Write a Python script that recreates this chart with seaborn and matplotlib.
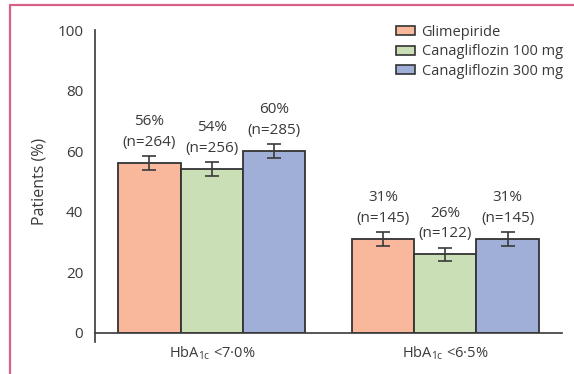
import matplotlib
matplotlib.use("Agg")
import matplotlib.pyplot as plt
from matplotlib.lines import Line2D
import seaborn as sns
import pandas as pd

# Data
categories = ["HbA$_{\\mathregular{1c}}$ <7·0%", "HbA$_{\\mathregular{1c}}$ <6·5%"]
treatments = ["Glimepiride", "Canagliflozin 100 mg", "Canagliflozin 300 mg"]
glimepiride = [56, 31]
cana_100 = [54, 26]
cana_300 = [60, 31]
err_glimepiride = [2.3, 2.2]
err_cana_100 = [2.3, 2.1]
err_cana_300 = [2.3, 2.2]
n_glimepiride = [264, 145]
n_cana_100 = [256, 122]
n_cana_300 = [285, 145]

colors = ["#F9B89C", "#CADFB5", "#9FAFD7"]
edge = "#333333"

sns.set_style("white")
plt.rcParams["font.family"] = ["Open Sans", "DejaVu Sans"]
plt.rcParams["mathtext.fontset"] = "custom"
plt.rcParams["mathtext.rm"] = "Open Sans"

rows = []
values = [glimepiride, cana_100, cana_300]
errs = [err_glimepiride, err_cana_100, err_cana_300]
ns = [n_glimepiride, n_cana_100, n_cana_300]
for t, vals, es, nn in zip(treatments, values, errs, ns):
    for c, v, e, n in zip(categories, vals, es, nn):
        rows.append({"category": c, "treatment": t, "value": v, "err": e, "n": n})
df = pd.DataFrame(rows)

fig = plt.figure(figsize=(5.74, 3.74), dpi=100)
ax = fig.add_axes([95 / 574, 41 / 374, 467 / 574, 303 / 374])

sns.barplot(data=df, x="category", y="value", hue="treatment",
            hue_order=treatments, order=categories, palette=colors,
            errorbar=None, width=0.8, edgecolor=edge, linewidth=1.3,
            saturation=1, ax=ax)

ink = "#3a3a3a"
for cont, t in zip(ax.containers, treatments):
    sub = df[df["treatment"] == t].set_index("category").loc[categories]
    for bar, (_, r) in zip(cont, sub.iterrows()):
        xc = bar.get_x() + bar.get_width() / 2
        top = r["value"] + r["err"]
        ax.errorbar(xc, r["value"], yerr=r["err"], fmt="none", ecolor=ink,
                    elinewidth=1.2, capsize=5, capthick=1.2, zorder=5)
        ax.annotate(f"(n={int(r['n'])})", (xc, top), xytext=(0, 10),
                    textcoords="offset points", ha="center", va="center",
                    fontsize=11, color=ink)
        ax.annotate(f"{int(r['value'])}%", (xc, top), xytext=(0, 25),
                    textcoords="offset points", ha="center", va="center",
                    fontsize=11, color=ink)

ax.set_xlim(-0.5, 1.5)
ax.set_ylim(0, 100)
ax.set_yticks([0, 20, 40, 60, 80, 100])
ax.set_xticks([0, 1])
ax.set_xticklabels(categories)
ax.set_xticks([-0.5, 0.5, 1.5], minor=True)
ax.tick_params(axis="x", which="major", length=0, pad=8, labelsize=10.5, colors=ink)
ax.tick_params(axis="x", which="minor", length=7, width=1.2, direction="out", color=ink)
ax.tick_params(axis="y", length=6.5, width=1.2, direction="out", pad=2, labelsize=11, colors=ink)
ax.set_xlabel("")
ax.set_ylabel("Patients (%)", fontsize=11.5, color=ink, labelpad=7)

for s in ["top", "right"]:
    ax.spines[s].set_visible(False)
for s in ["left", "bottom"]:
    ax.spines[s].set_color(ink)
    ax.spines[s].set_linewidth(1.2)
ax.spines["left"].set_bounds(-3, 100)
ax.spines["left"].set_clip_on(False)

leg = ax.legend(loc="upper left", bbox_to_anchor=(396 / 574, 1 - 25 / 374),
                bbox_transform=fig.transFigure, frameon=False,
                fontsize=10.5, handlelength=1.3, handleheight=0.55,
                handletextpad=0.45, labelspacing=0.3, borderaxespad=0,
                borderpad=0)
for h in leg.legend_handles:
    h.set_edgecolor(edge)
    h.set_linewidth(1.2)
for txt in leg.get_texts():
    txt.set_color(ink)

# page frame lines
frame = "#d8608c"
fig.add_artist(Line2D([10 / 574, 1], [1 - 5 / 374, 1 - 5 / 374],
                      transform=fig.transFigure, color=frame, lw=1.6))
fig.add_artist(Line2D([10 / 574, 10 / 574], [0, 1 - 5 / 374],
                      transform=fig.transFigure, color=frame, lw=1.6))

fig.savefig("out.png", dpi=100)
